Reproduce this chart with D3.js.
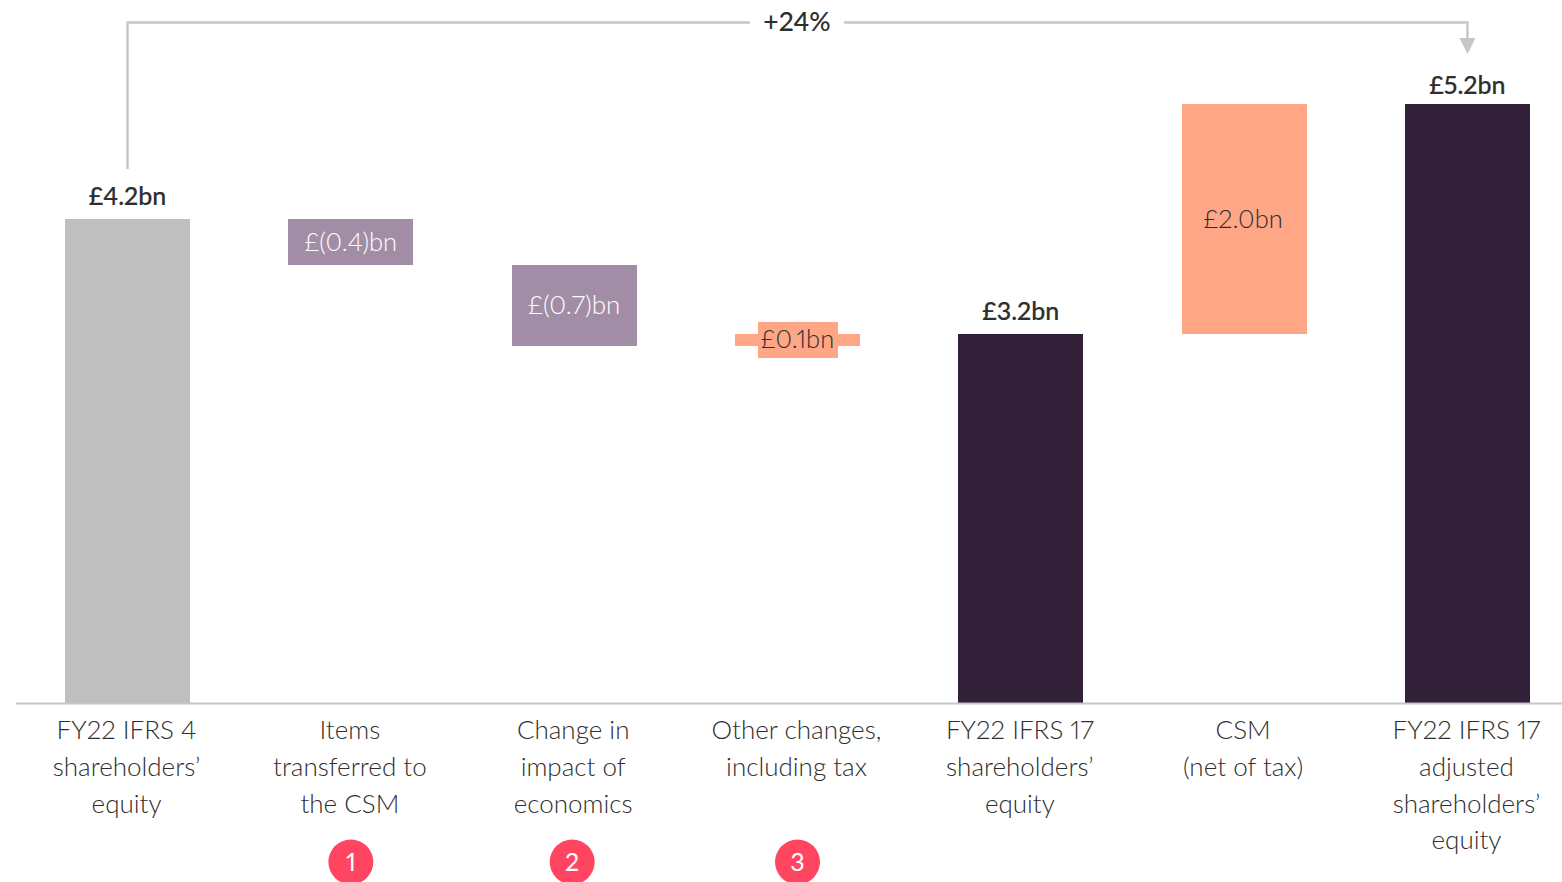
<!DOCTYPE html>
<html><head><meta charset="utf-8">
<script src="https://cdn.jsdelivr.net/npm/d3@7/dist/d3.min.js"></script>
<style>html,body{margin:0;padding:0;background:#fff}svg{display:block}text{font-family:Lato,sans-serif;font-variant-numeric:proportional-nums}</style>
</head><body><svg id="c" width="1562" height="882"></svg>
<script>
const categories=["FY22 IFRS 4|shareholders’|equity","Items|transferred to|the CSM","Change in|impact of|economics","Other changes,|including tax","FY22 IFRS 17|shareholders’|equity","CSM|(net of tax)","FY22 IFRS 17|adjusted|shareholders’|equity"];
const barStart=[0,4.2,3.8,3.1,0,3.2,0];
const barEnd=[4.2,3.8,3.1,3.2,3.2,5.2,5.2];
const valueLabels=["£4.2bn","£(0.4)bn","£(0.7)bn","£0.1bn","£3.2bn","£2.0bn","£5.2bn"];
const barColors=["#bfbfbf","#a28da6","#a28da6","#ffa686","#321f38","#ffa686","#321f38"];
const labelModes=["above","inW","inW","inBox","above","in","above"];
const noteNumbers=[null,1,2,3,null,null,null];
const changeLabel="+24%";

const svg=d3.select("#c");
const x=d3.scaleBand().domain(d3.range(7)).range([65,1530]).paddingInner(0.44);
const y=d3.scaleLinear().domain([0,5.2]).range([703,104]);
const cx=i=>x(i)+x.bandwidth()/2;
const ink="#2e2e2e";

svg.selectAll("rect.bar").data(d3.range(7)).join("rect").attr("class","bar")
 .attr("x",i=>x(i)).attr("width",x.bandwidth())
 .attr("y",i=>y(Math.max(barStart[i],barEnd[i])))
 .attr("height",i=>Math.abs(y(barStart[i])-y(barEnd[i])))
 .attr("fill",i=>barColors[i]).attr("shape-rendering","crispEdges");

svg.append("line").attr("x1",16).attr("x2",1562).attr("y1",y(0)+.5).attr("y2",y(0)+.5).attr("stroke","#c6c6c6").attr("stroke-width",2);

d3.range(7).forEach(i=>{
 const m=labelModes[i], top=y(Math.max(barStart[i],barEnd[i])), bot=y(Math.min(barStart[i],barEnd[i]));
 const mid=(top+bot)/2;
 if(m==="inBox") svg.append("rect").attr("x",cx(i)-40).attr("y",mid-18).attr("width",80).attr("height",36).attr("fill",barColors[i]).attr("shape-rendering","crispEdges");
 const off=i===5?-1:0;
 const t=svg.append("text").attr("x",cx(i)+off).attr("text-anchor","middle").attr("font-size",25).text(valueLabels[i]);
 if(m==="above") t.attr("y",i===6?top-10:top-14).attr("font-weight",500).attr("fill",ink).attr("stroke",ink).attr("stroke-width",.2);
 else t.attr("y",(i===2||i===3)?mid+8:mid+9).attr("font-size",i===2?26:25.5).attr("font-weight",300).attr("fill",m==="inW"?"#fff":ink);
});

categories.forEach((c,i)=>{
 c.split("|").forEach((ln,k)=>{
  svg.append("text").attr("x",cx(i)-1).attr("y",739+k*36.8).attr("text-anchor","middle")
   .attr("font-size",26).attr("font-weight",300).attr("fill",ink).text(ln);
 });
});

noteNumbers.forEach((n,i)=>{
 if(n==null) return;
 const c=cx(i)+(i===2?-2:0);
 svg.append("circle").attr("cx",c).attr("cy",862).attr("r",22.5).attr("fill","#ff4560");
 svg.append("text").attr("x",c).attr("y",871).attr("text-anchor","middle").attr("font-size",25).attr("font-weight",400).attr("fill","#fff").text(n);
});

const yb=22.5, lx=cx(0), rx=cx(6);
svg.append("path").attr("fill","none").attr("stroke","#c6c6c6").attr("stroke-width",2.4)
 .attr("d",`M${lx},169V${yb}H750M844,${yb}H${rx}V42`);
svg.append("path").attr("fill","#c6c6c6").attr("d",`M${rx-8},38H${rx+8}L${rx},54Z`);
svg.append("text").attr("x",797).attr("y",31).attr("text-anchor","middle").attr("font-size",26.5).attr("font-weight",500).attr("fill",ink).text(changeLabel);
</script></body></html>
